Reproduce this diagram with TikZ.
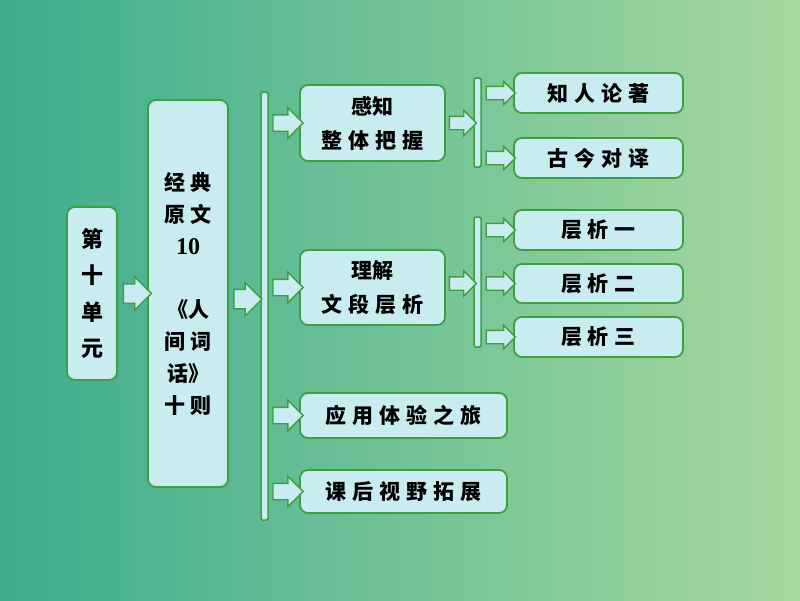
\documentclass[tikz,border=0pt]{standalone}
\usepackage{fontspec}
\newfontfamily\cjk{Noto Sans CJK SC}
\newfontfamily\numfont{Liberation Serif}
\usetikzlibrary{shapes.arrows,calc}
\definecolor{bgL}{RGB}{60,172,142}
\definecolor{bgR}{RGB}{166,216,158}
\definecolor{boxfill}{RGB}{200,236,240}
\definecolor{boxgreen}{RGB}{62,158,66}
\newcommand{\gp}{\hspace{0.28em}}
\tikzset{
  box/.style={draw=boxgreen, line width=1.8pt, fill=boxfill, rounded corners=8pt, inner sep=0pt, align=center,
    font=\cjk\bfseries\fontsize{21}{34}\selectfont},
  bar/.style={draw=boxgreen, line width=1.5pt, fill=boxfill, rounded corners=1.5pt, minimum width=7pt, inner sep=0pt},
  blk/.style={single arrow, draw=boxgreen, line width=1.4pt, fill=boxfill, inner sep=0pt, minimum height=#1},
  big/.style={text height=9pt, text depth=9pt, single arrow head extend=7pt},
  mid/.style={text height=7.5pt, text depth=7.5pt, single arrow head extend=7pt},
  sml/.style={text height=6pt, text depth=6pt, single arrow head extend=5pt}
}
\begin{document}
\begin{tikzpicture}[x=1pt,y=-1pt]
\useasboundingbox (0,0) rectangle (800,600);
\shade[left color=bgL, right color=bgR] (0,0) rectangle (800,600);
% level 0 and 1
\node[box, minimum width=50pt, minimum height=173pt, font=\cjk\bfseries\fontsize{22}{36.5}\selectfont] (u) at (92,293.5) {第\\十\\单\\元};
\node[box, minimum width=80pt, minimum height=387pt, font=\cjk\bfseries\fontsize{21}{32}\selectfont] (m) at (188,293.5)
  {经\gp 典\\原\gp 文\\{\numfont\bfseries\fontsize{24}{32}\selectfont 10}\\[31pt]《人\\间\gp 词\\话》\\十\gp 则};
\node[bar, minimum height=428pt] (bar1) at (264.5,306) {};
\node[blk=28pt, big] (a1) at ($(u.east)!0.5!(m.west)$) {};
\node[blk=28pt, big] (a2) at ($(m.east)!0.45!(bar1.west)$) {};
% level 2
\node[box, minimum width=145pt, minimum height=76pt] (b1) at (372.5,123) {感知\\整\gp 体\gp 把\gp 握};
\node[box, minimum width=145pt, minimum height=75pt] (b2) at (372.5,287.5) {理解\\文\gp 段\gp 层\gp 析};
\node[box, minimum width=207pt, minimum height=45pt] (b3) at (403.5,415.5) {应\gp 用\gp 体\gp 验\gp 之\gp 旅};
\node[box, minimum width=207pt, minimum height=43pt] (b4) at (403.5,491.5) {课\gp 后\gp 视\gp 野\gp 拓\gp 展};
\foreach \t in {b1,b2,b3,b4}{
  \node[blk=30pt, mid] at ($(bar1.east|-\t.west)!0.5!(\t.west)$) {};
}
% bars level 3
\node[bar, minimum height=89pt] (bar2) at (477.5,122.5) {};
\node[bar, minimum height=130pt] (bar3) at (477.5,282) {};
\node[blk=27pt, sml, single arrow head extend=6pt] (a3) at ($(b1.east)!0.5!(bar2.west|-b1.east)$) {};
\node[blk=27pt, sml, single arrow head extend=6pt] (a4) at ($(b2.east)!0.5!(bar3.west|-b2.east)+(0,-4)$) {};
% level 3
\node[box, minimum width=169pt, minimum height=40pt] (c1) at (598.5,93) {知\gp 人\gp 论\gp 著};
\node[box, minimum width=169pt, minimum height=40pt] (c2) at (598.5,158) {古\gp 今\gp 对\gp 译};
\node[box, minimum width=169pt, minimum height=40pt] (c3) at (598.5,230) {层\gp 析\gp 一};
\node[box, minimum width=169pt, minimum height=39pt] (c4) at (598.5,283.5) {层\gp 析\gp 二};
\node[box, minimum width=169pt, minimum height=40pt] (c5) at (598.5,337) {层\gp 析\gp 三};
\foreach \t/\b in {c1/bar2,c2/bar2,c3/bar3,c4/bar3,c5/bar3}{
  \node[blk=29pt, sml] at ($(\b.east|-\t.west)!0.5!(\t.west)$) {};
}
\end{tikzpicture}
\end{document}
